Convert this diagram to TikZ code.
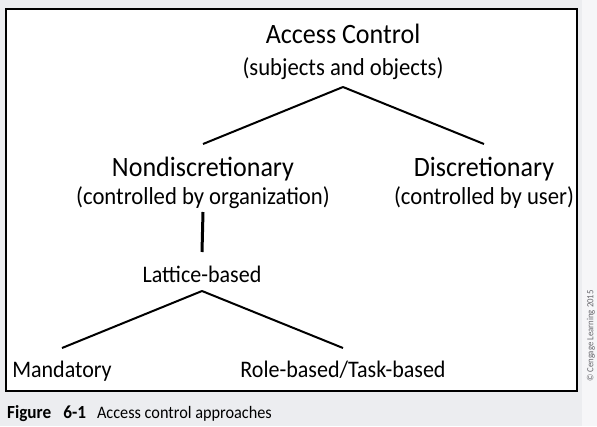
\documentclass[tikz,border=0pt]{standalone}
\usepackage{fontspec}
\setmainfont{Carlito}[FakeStretch=0.93]
\usetikzlibrary{positioning}
\definecolor{pagegray}{RGB}{236,237,240}
\definecolor{stripgray}{RGB}{246,246,248}
\definecolor{notegray}{RGB}{105,105,110}

\begin{document}
\begin{tikzpicture}[
        x=1pt, y=-1pt,
        head/.style={inner sep=0pt, anchor=base, font=\fontsize{28}{32}\selectfont},
        sub/.style={inner sep=0pt, anchor=base, font=\fontsize{24.4}{28}\selectfont},
        leaf/.style={inner sep=0pt, anchor=base, font=\fontsize{23.7}{27}\selectfont},
        branch/.style={line width=2pt},
        stem/.style={line width=3pt}
    ]
        \useasboundingbox (0,0) rectangle (597,426);

        % Page and frame
        \fill[pagegray] (0,0) rectangle (597,426);
        \fill[stripgray] (582,0) rectangle (597,426);
        \draw[line width=2.5pt, fill=white] (6,9) rectangle (577,391);

        % Level 1: root
        \node[head] (ac) at (343,43) {Access Control};
        \node[sub] (acsub) at (343,75) {(subjects and objects)};

        % Level 2: nondiscretionary / discretionary
        \node[head] (nondisc) at (203,176) {Nondiscretionary};
        \node[sub] (orgsub) at (203,204) {(controlled by organization)};
        \node[head] (disc) at (484,176) {Discretionary};
        \node[sub] (usersub) at (484,204) {(controlled by user)};

        % Level 3: lattice-based
        \node[leaf] (lattice) at (202,282) {Lattice-based};

        % Level 4: leaves
        \node[leaf] (mand) at (62,377) {Mandatory};
        \node[leaf] (role) at (343,377) {Role-based/Task-based};

        % Caption and credit
        \node[inner sep=0pt, anchor=base west, font=\fontsize{17.5}{20}\selectfont] (caption) at (7,418)
            {\textbf{\fontsize{18.5}{20}\selectfont Figure\hspace{12pt}6-1}\hspace{11pt}Access control approaches};
        \node[inner sep=0pt, rotate=90, text=notegray, font=\fontsize{9.4}{11}\selectfont] (credit) at (591,336)
            {\textcopyright{} Cengage Learning 2015};

        % Connectors
        \draw[branch] ([yshift=-12pt]acsub.base) -- ([yshift=32pt]nondisc.base);
        \draw[branch] ([yshift=-12pt]acsub.base) -- ([yshift=32pt]disc.base);
        \draw[stem] ([yshift=-8pt]orgsub.base) -- ([yshift=30pt]lattice.base);
        \draw[branch] ([yshift=-9pt]lattice.base) -- ([yshift=29pt]mand.base);
        \draw[branch] ([yshift=-9pt]lattice.base) -- ([yshift=29pt]role.base);
    \end{tikzpicture}
\end{document}
